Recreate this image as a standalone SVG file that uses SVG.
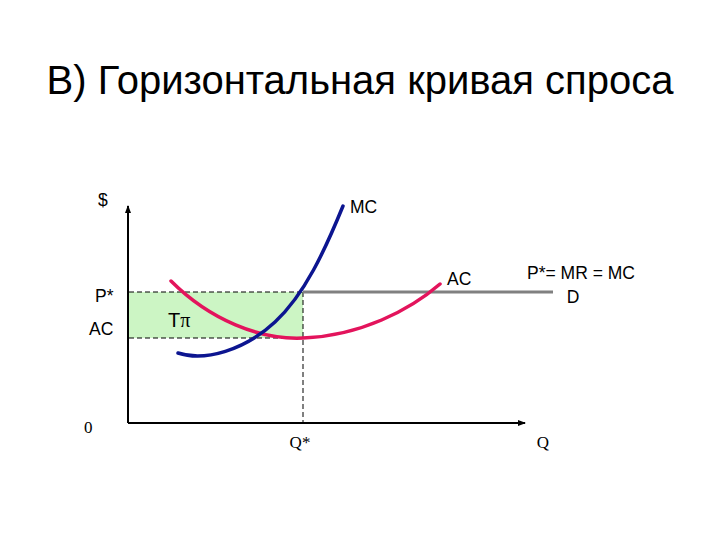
<svg xmlns="http://www.w3.org/2000/svg" width="720" height="540" viewBox="0 0 720 540">
<style>
.s{font-family:"Liberation Sans",Arial,sans-serif;font-size:17.5px;fill:#000}
.r{font-family:"Liberation Serif","Times New Roman",serif;font-size:17px;fill:#000}
.dash{stroke:#000;stroke-width:1;stroke-dasharray:5,3;fill:none}
.axis{stroke:#000;stroke-width:2;fill:none}
</style>
<defs>
<marker id="ah" markerWidth="8" markerHeight="8" refX="7" refY="4" orient="auto" markerUnits="userSpaceOnUse">
<path d="M0,1 L8,4 L0,7 Z" fill="#000"/>
</marker>
</defs>
<rect width="720" height="540" fill="#fff"/>
<text x="360" y="94" text-anchor="middle" font-family="Liberation Sans,Arial,sans-serif" font-size="40" fill="#000">В) Горизонтальная кривая спроса</text>
<g id="profit">
<rect x="129" y="292" width="174" height="46" fill="#ccf5c4"/>
<text x="168" y="327" font-family="Liberation Sans,Arial,sans-serif" font-size="20" fill="#000">T<tspan font-family="Liberation Serif,serif">π</tspan></text>
</g>
<g id="connectors">
<line class="axis" x1="128" y1="423" x2="128" y2="206" marker-end="url(#ah)"/>
<line class="axis" x1="128" y1="423" x2="525" y2="423" marker-end="url(#ah)"/>
<line class="dash" x1="129" y1="292" x2="303" y2="292"/>
<line class="dash" x1="129" y1="338" x2="303" y2="338"/>
<line class="dash" x1="303" y1="292" x2="303" y2="423"/>
</g>
<g id="demand">
<line x1="303" y1="292" x2="553" y2="292" stroke="#808080" stroke-width="3"/>
</g>
<g id="ac">
<path d="M171,281 C210,320 260,340 303,338 C360,336 410,310 440,284" fill="none" stroke="#e3145c" stroke-width="3.5" stroke-linecap="round"/>
</g>
<g id="mc">
<path d="M178,353 C205,362 245,350 275,322 S325,250 343,206" fill="none" stroke="#0c1590" stroke-width="3.5" stroke-linecap="round"/>
</g>
<g id="labels">
<text class="s" x="98" y="206">$</text>
<text class="s" x="350" y="213">MC</text>
<text class="s" x="447" y="285">AC</text>
<text class="s" x="581" y="279" text-anchor="middle">P*= MR = MC</text>
<text class="s" x="573" y="303" text-anchor="middle">D</text>
<text class="s" x="95" y="302">P*</text>
<text class="s" x="89" y="335">AC</text>
<text class="r" x="84" y="433">0</text>
<text class="r" x="300" y="448" text-anchor="middle">Q*</text>
<text class="r" x="543" y="448" text-anchor="middle">Q</text>
</g>
</svg>
